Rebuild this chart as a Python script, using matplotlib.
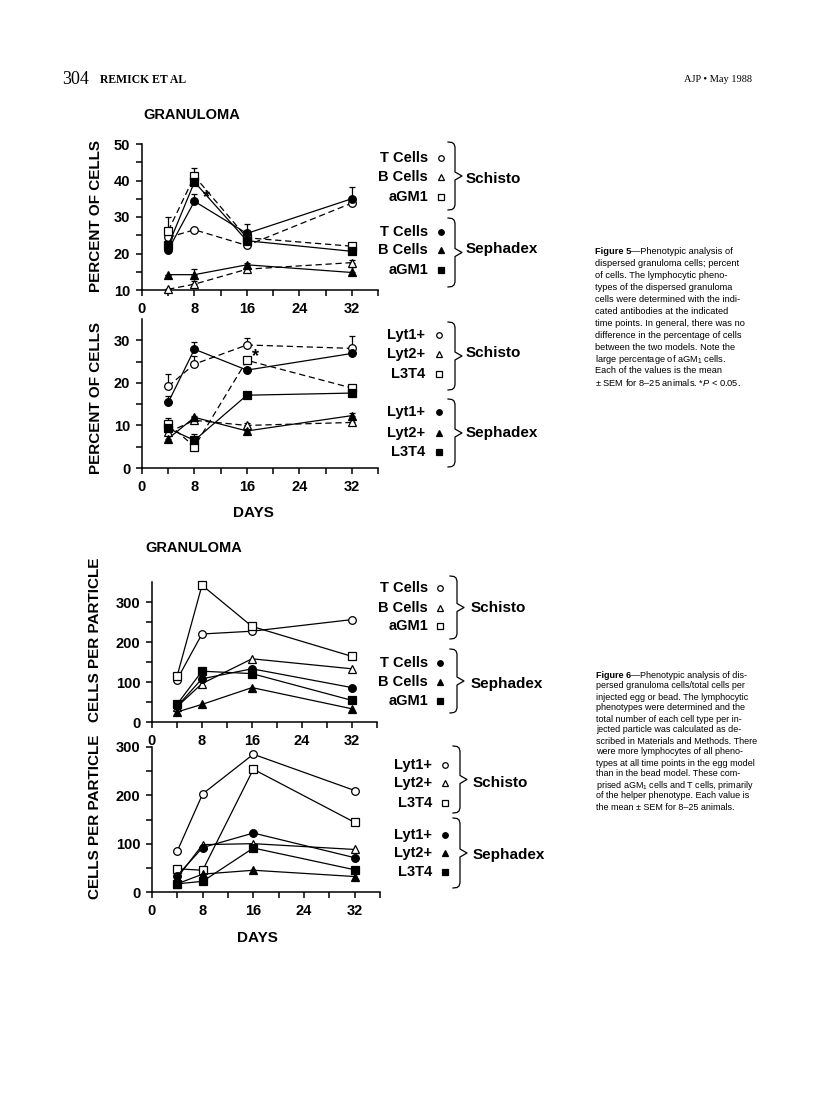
import numpy as np
import matplotlib
matplotlib.use("Agg")
import matplotlib.pyplot as plt
from matplotlib.lines import Line2D

plt.rcParams['font.family'] = ['Liberation Sans', 'DejaVu Sans']
plt.rcParams['mathtext.fontset'] = 'custom'
plt.rcParams['mathtext.rm'] = 'Liberation Sans'
plt.rcParams['mathtext.it'] = 'Liberation Sans:italic'

W, H = 816, 1105

days = [4, 8, 16, 32]

# Figure 5 upper: T / B / aGM1, percent of cells
p5a_schisto_t = [24.4, 26.5, 22.2, 33.8]
p5a_schisto_b = [10.2, 11.6, 15.7, 17.5]
p5a_schisto_agm = [26.2, 41.2, 24.3, 22.0]
p5a_sephadex_t = [21.0, 34.3, 25.5, 35.0]
p5a_sephadex_b = [14.2, 14.2, 16.9, 14.8]
p5a_sephadex_agm = [22.2, 39.6, 23.5, 20.6]
sem5a_schisto_t = [1.0, 0.0, 1.0, 1.0]
sem5a_schisto_b = [0.0, 0.8, 0.5, 0.8]
sem5a_schisto_agm = [3.8, 2.3, 0.8, 1.0]
sem5a_sephadex_t = [1.2, 2.0, 2.5, 3.3]
sem5a_sephadex_b = [0.0, 1.6, 0.5, 1.5]
sem5a_sephadex_agm = [1.5, 1.0, 3.0, 0.6]

# Figure 5 lower: Lyt1+ / Lyt2+ / L3T4, percent of cells
p5b_schisto_lyt1 = [19.2, 24.4, 28.9, 28.1]
p5b_schisto_lyt2 = [8.4, 11.2, 10.0, 10.7]
p5b_schisto_l3t4 = [10.4, 5.0, 25.3, 18.8]
p5b_sephadex_lyt1 = [15.4, 27.9, 23.0, 26.9]
p5b_sephadex_lyt2 = [6.9, 11.9, 8.7, 12.3]
p5b_sephadex_l3t4 = [9.3, 6.5, 17.1, 17.6]
sem5b_schisto_lyt1 = [2.8, 2.0, 1.6, 2.8]
sem5b_schisto_lyt2 = [1.0, 0.5, 0.5, 0.5]
sem5b_schisto_l3t4 = [1.4, 0.8, 0.8, 0.5]
sem5b_sephadex_lyt1 = [1.5, 1.7, 0.6, 0.6]
sem5b_sephadex_lyt2 = [0.8, 0.4, 1.0, 0.6]
sem5b_sephadex_l3t4 = [1.0, 1.5, 0.5, 0.5]

# Figure 6 upper: cells per particle
c6a_schisto_t = [106, 220, 227, 256]
c6a_schisto_b = [38, 96, 158, 133]
c6a_schisto_agm = [114, 342, 239, 164]
c6a_sephadex_t = [39, 108, 133, 86]
c6a_sephadex_b = [25, 44, 86, 33]
c6a_sephadex_agm = [44, 127, 121, 54]

# Figure 6 lower: cells per particle
c6b_schisto_lyt1 = [85, 203, 285, 210]
c6b_schisto_lyt2 = [30, 98, 100, 88]
c6b_schisto_l3t4 = [48, 45, 254, 144]
c6b_sephadex_lyt1 = [34, 92, 122, 71]
c6b_sephadex_lyt2 = [17, 37, 45, 32]
c6b_sephadex_l3t4 = [17, 22, 91, 46]

cell_labels = ["T Cells", "B Cells", "aGM1"]
lyt_labels = ["Lyt1+", "Lyt2+", "L3T4"]
markers = ["o", "^", "s"]

caption5 = [
    "dispersed granuloma cells; percent",
    "of cells. The lymphocytic pheno-",
    "types of the dispersed granuloma",
    "cells were determined with the indi-",
    "cated antibodies at the indicated",
    "time points. In general, there was no",
    "difference in the percentage of cells",
    "between the two models. Note the",
    "large percentage of aGM$_1$ cells.",
    "Each of the values is the mean",
    "± SEM for 8–25 animals. *$P$ < 0.05.",
]
caption6 = [
    "persed granuloma cells/total cells per",
    "injected egg or bead. The lymphocytic",
    "phenotypes were determined and the",
    "total number of each cell type per in-",
    "jected particle was calculated as de-",
    "scribed in Materials and Methods. There",
    "were more lymphocytes of all pheno-",
    "types at all time points in the egg model",
    "than in the bead model. These com-",
    "prised aGM$_1$ cells and T cells, primarily",
    "of the helper phenotype. Each value is",
    "the mean ± SEM for 8–25 animals.",
]

fig = plt.figure(figsize=(W / 100, H / 100), dpi=100)


def fx(x):
    return x / W


def fy(y):
    return 1 - y / H


def add_axes(x0, x1, ytop, ybot):
    return fig.add_axes([fx(x0), fy(ybot), (x1 - x0) / W, (ybot - ytop) / H])


def style(ax, ylim, major, minor):
    ax.set_xlim(0, 36)
    ax.set_ylim(*ylim)
    ax.set_xticks([0, 8, 16, 24, 32])
    ax.set_xticks([4, 12, 20, 28, 36], minor=True)
    ax.set_yticks(major)
    ax.set_yticks(minor, minor=True)
    for s in ("top", "right"):
        ax.spines[s].set_visible(False)
    for s in ("left", "bottom"):
        ax.spines[s].set_linewidth(1.1)
    ax.tick_params(which="both", direction="out", width=1.1, length=4.5,
                   labelsize=10.5, pad=4)
    for lab in ax.get_xticklabels() + ax.get_yticklabels():
        lab.set_fontweight("bold")
    ax.patch.set_visible(False)


def series(ax, y, sem, marker, filled, dashed):
    ls = (0, (5, 3)) if dashed else "-"
    fc = "black" if filled else "white"
    if sem is not None:
        ax.errorbar(days, y, yerr=[np.zeros(len(y)), sem], fmt="none",
                    ecolor="black", elinewidth=0.9, capsize=2.5,
                    capthick=0.9, zorder=2, clip_on=False)
    ax.plot(days, y, linestyle=ls, color="black", lw=0.9, marker=marker,
            ms=5.5, mfc=fc, mec="black", mew=0.9, clip_on=False, zorder=3)


def brace(x, y0, y1):
    ym = (y0 + y1) / 2
    xs = [x - 7, x - 3, x - 1, x, x, x + 7, x, x, x - 1, x - 3, x - 7]
    ys = [y0, y0 + 0.5, y0 + 2, y0 + 5, ym - 4, ym, ym + 4, y1 - 5,
          y1 - 2, y1 - 0.5, y1]
    fig.add_artist(Line2D([fx(v) for v in xs], [fy(v) for v in ys],
                          transform=fig.transFigure, color="black", lw=0.9))


def legend(labels, rows, x_text, x_mark, bx, spans, gx, gy):
    for i, y in enumerate(rows):
        fig.text(fx(x_text), fy(y), labels[i % 3], ha="right", va="center",
                 fontsize=10.5, fontweight="bold")
        fig.add_artist(Line2D([fx(x_mark)], [fy(y)], marker=markers[i % 3],
                              ms=4, mfc="black" if i >= 3 else "white",
                              mec="black", mew=0.9, linestyle="none",
                              transform=fig.transFigure))
    for (y0, y1), name, g in zip(spans, ["Schisto", "Sephadex"], gy):
        brace(bx, y0, y1)
        fig.text(fx(gx), fy(g), name, ha="left", va="center",
                 fontsize=11, fontweight="bold")


def caption(x, y0, dy, head, first, lines, size):
    r = fig.canvas.get_renderer()
    t = fig.text(fx(x), fy(y0), head, fontsize=size, fontweight="bold",
                 va="center")
    x1 = t.get_window_extent(r).x1
    fig.text(x1 / W, fy(y0), first, fontsize=size, va="center")
    for i, line in enumerate(lines):
        fig.text(fx(x), fy(y0 + dy * (i + 1)), line, fontsize=size,
                 va="center")


# header
fig.text(fx(62), fy(80), "304", family="Liberation Serif", fontsize=13,
         va="center")
fig.text(fx(100), fy(80), "REMICK ET AL", family="Liberation Serif",
         fontsize=8.5, fontweight="bold", va="center")
fig.text(fx(752), fy(80), "AJP • May 1988", family="Liberation Serif",
         fontsize=7.5, ha="right", va="center")

# Figure 5
fig.text(fx(143), fy(115), "GRANULOMA", fontsize=10.5, fontweight="bold",
         va="center")
ax1 = add_axes(142, 378, 144, 290)
style(ax1, (10, 50), [10, 20, 30, 40, 50], [15, 25, 35, 45])
series(ax1, p5a_schisto_t, sem5a_schisto_t, "o", False, True)
series(ax1, p5a_schisto_b, sem5a_schisto_b, "^", False, True)
series(ax1, p5a_schisto_agm, sem5a_schisto_agm, "s", False, True)
series(ax1, p5a_sephadex_t, sem5a_sephadex_t, "o", True, False)
series(ax1, p5a_sephadex_b, sem5a_sephadex_b, "^", True, False)
series(ax1, p5a_sephadex_agm, sem5a_sephadex_agm, "s", True, False)
ax1.text(9.8, 35.2, "*", fontsize=13, fontweight="bold", ha="center",
         va="center")
fig.text(fx(96), fy(216), "PERCENT OF CELLS", rotation=90, fontsize=11,
         fontweight="bold", ha="center", va="center")
legend(cell_labels, [158, 177, 197, 232, 250, 270], 428, 441, 455,
       [(142, 210), (218, 287)], 466, [179, 249])

ax2 = add_axes(142, 378, 319, 468)
style(ax2, (0, 35), [0, 10, 20, 30], [5, 15, 25])
series(ax2, p5b_schisto_lyt1, sem5b_schisto_lyt1, "o", False, True)
series(ax2, p5b_schisto_lyt2, sem5b_schisto_lyt2, "^", False, True)
series(ax2, p5b_schisto_l3t4, sem5b_schisto_l3t4, "s", False, True)
series(ax2, p5b_sephadex_lyt1, sem5b_sephadex_lyt1, "o", True, False)
series(ax2, p5b_sephadex_lyt2, sem5b_sephadex_lyt2, "^", True, False)
series(ax2, p5b_sephadex_l3t4, sem5b_sephadex_l3t4, "s", True, False)
ax2.text(17.3, 26.2, "*", fontsize=13, fontweight="bold", ha="center",
         va="center")
fig.text(fx(96), fy(398), "PERCENT OF CELLS", rotation=90, fontsize=11,
         fontweight="bold", ha="center", va="center")
fig.text(fx(253), fy(513), "DAYS", fontsize=11, fontweight="bold",
         ha="center", va="center")
legend(lyt_labels, [335, 354, 374, 412, 433, 452], 425, 439, 455,
       [(322, 390), (399, 467)], 466, [353, 433])

caption(595, 252, 11.9, "Figure 5", "—Phenotypic analysis of", caption5, 6.7)

# Figure 6
fig.text(fx(145), fy(548), "GRANULOMA", fontsize=10.5, fontweight="bold",
         va="center")
ax3 = add_axes(152, 377, 582, 722)
style(ax3, (0, 350), [0, 100, 200, 300], [50, 150, 250])
series(ax3, c6a_schisto_t, None, "o", False, False)
series(ax3, c6a_schisto_b, None, "^", False, False)
series(ax3, c6a_schisto_agm, None, "s", False, False)
series(ax3, c6a_sephadex_t, None, "o", True, False)
series(ax3, c6a_sephadex_b, None, "^", True, False)
series(ax3, c6a_sephadex_agm, None, "s", True, False)
fig.text(fx(95), fy(640), "CELLS PER PARTICLE", rotation=90, fontsize=11,
         fontweight="bold", ha="center", va="center")
legend(cell_labels, [588, 608, 626, 663, 682, 701], 428, 440, 457,
       [(576, 639), (649, 713)], 471, [608, 684])

ax4 = add_axes(152, 380, 747, 892)
style(ax4, (0, 300), [0, 100, 200, 300], [50, 150, 250])
series(ax4, c6b_schisto_lyt1, None, "o", False, False)
series(ax4, c6b_schisto_lyt2, None, "^", False, False)
series(ax4, c6b_schisto_l3t4, None, "s", False, False)
series(ax4, c6b_sephadex_lyt1, None, "o", True, False)
series(ax4, c6b_sephadex_lyt2, None, "^", True, False)
series(ax4, c6b_sephadex_l3t4, None, "s", True, False)
fig.text(fx(95), fy(817), "CELLS PER PARTICLE", rotation=90, fontsize=11,
         fontweight="bold", ha="center", va="center")
fig.text(fx(257), fy(938), "DAYS", fontsize=11, fontweight="bold",
         ha="center", va="center")
legend(lyt_labels, [765, 783, 803, 835, 853, 872], 432, 445, 460,
       [(746, 813), (818, 888)], 473, [783, 855])

caption(596, 675, 11.0, "Figure 6", "—Phenotypic analysis of dis-",
        caption6, 6.5)

fig.savefig("out.png", dpi=100)
